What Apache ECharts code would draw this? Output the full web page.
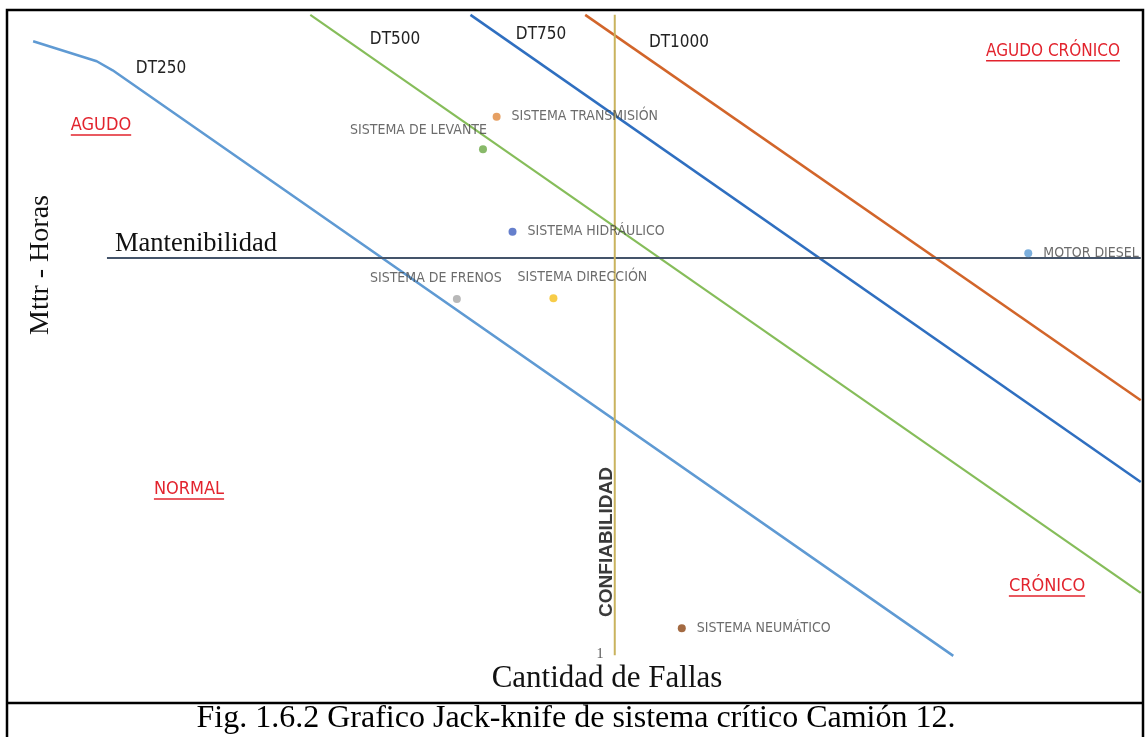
<!DOCTYPE html>
<html><head><meta charset="utf-8">
<script src="https://cdn.jsdelivr.net/npm/echarts@6/dist/echarts.min.js"></script>
<style>html,body{margin:0;padding:0;background:#fff}#c{width:1147px;height:737px}</style>
</head><body><div id="c"></div>
<script>
// ---- Data (normalized units 0-100) ----
const dt250 = [[2.3, 95.5], [7.9, 92.6], [9.3, 91.3], [83.3, 6.8]];
const dt500 = [[26.7, 99.3], [99.8, 15.9]];
const dt750 = [[40.8, 99.3], [99.8, 31.9]];
const dt1000 = [[50.9, 99.3], [99.8, 43.7]];
const mantenibilidad = [[8.8, 64.2], [99.8, 64.2]];
const confiabilidad = [[53.5, 99.3], [53.5, 6.9]];
const sistemas = ['SISTEMA TRANSMISIÓN', 'SISTEMA DE LEVANTE', 'SISTEMA HIDRÁULICO', 'SISTEMA DE FRENOS', 'SISTEMA DIRECCIÓN', 'MOTOR DIESEL', 'SISTEMA NEUMÁTICO'];
const fallas = [43.1, 41.9, 44.5, 39.6, 48.1, 89.9, 59.4];
const mttr = [84.6, 79.9, 68.0, 58.3, 58.4, 64.9, 10.8];
const dtNames = ['DT250', 'DT500', 'DT750', 'DT1000'];
const zonas = ['AGUDO', 'AGUDO CRÓNICO', 'NORMAL', 'CRÓNICO'];

// ---- Styles / layout ----
const NARROW = "'Liberation Sans Narrow','DejaVu Sans Condensed','Roboto Condensed',Roboto,sans-serif";
const SERIF = "'Liberation Serif','Times New Roman',serif";
const dotColors = ['#e0883c', '#6aa843', '#3f5fbf', '#a6a6a6', '#f5bf1a', '#5b9bd5', '#8c4513'];
const labelPos = [
  { position: 'right', distance: 11 },
  { position: 'top', distance: 8, align: 'right', offset: [4, 0] },
  { position: 'right', distance: 11 },
  { position: 'top', distance: 10, offset: [-21, 0] },
  { position: 'top', distance: 10, offset: [29, 0] },
  { position: 'right', distance: 11, offset: [0, 0] },
  { position: 'right', distance: 11 }
];

const cv = document.createElement('canvas').getContext('2d');
function tw(text, font) { cv.font = font; return cv.measureText(text).width; }

function redLabel(text, cx, cy, size) {
  const font = size + 'px ' + NARROW;
  const w = tw(text, font);
  return [
    { type: 'text', left: cx - w / 2, top: cy - size * 0.6, style: { text: text, font: font, fill: '#e2232d' }, z: 10 },
    { type: 'line', shape: { x1: cx - w / 2, y1: cy + size * 0.45, x2: cx + w / 2, y2: cy + size * 0.45 }, style: { stroke: '#e2232d', lineWidth: 1.5 }, z: 10 }
  ];
}
function plainText(text, x, y, font, fill, extra) {
  return Object.assign({ type: 'text', x: x, y: y, style: { text: text, font: font, fill: fill, textAlign: 'center', textVerticalAlign: 'middle' }, z: 10 }, extra || {});
}

const lineSeries = (data, color, width) => ({
  type: 'line', data: data, symbol: 'none', silent: true, animation: false,
  lineStyle: { color: color, width: width }, z: 2
});

const scatterData = sistemas.map((n, i) => ({
  name: n, value: [fallas[i], mttr[i]],
  itemStyle: { color: dotColors[i] },
  label: Object.assign({ show: true, formatter: n, color: '#474747', fontFamily: NARROW, fontSize: 14 }, labelPos[i])
}));

const dtFont = '17px ' + NARROW;
const graphics = [
  // outer frame
  { type: 'rect', shape: { x: 7, y: 10, width: 1136, height: 740 }, style: { fill: 'none', stroke: '#000', lineWidth: 2.5 }, z: 20 },
  { type: 'line', shape: { x1: 7, y1: 703, x2: 1143, y2: 703 }, style: { stroke: '#000', lineWidth: 2.5 }, z: 20 },
  plainText(dtNames[0], 161, 69, dtFont, '#222'),
  plainText(dtNames[1], 395, 40, dtFont, '#222'),
  plainText(dtNames[2], 541, 35, dtFont, '#222'),
  plainText(dtNames[3], 679, 43, dtFont, '#222'),
  ...redLabel(zonas[0], 101, 127, 18),
  ...redLabel(zonas[1], 1053, 53, 17),
  ...redLabel(zonas[2], 189, 491, 18),
  ...redLabel(zonas[3], 1047, 588, 18),
  { type: 'text', left: 115, top: 231, style: { text: 'Mantenibilidad', font: '26.5px ' + SERIF, fill: '#111' }, z: 10 },
  plainText('CONFIABILIDAD', 607, 542, "bold 19px 'Liberation Sans',Arial,sans-serif", '#3a3a3a', { rotation: Math.PI / 2 }),
  plainText('Mttr - Horas', 41, 265, '28px ' + SERIF, '#111', { rotation: Math.PI / 2 }),
  plainText('1', 600, 654, '14px ' + SERIF, '#555'),
  plainText('Cantidad de Fallas', 607, 679, '31px ' + SERIF, '#111'),
  plainText('Fig. 1.6.2 Grafico Jack-knife de sistema crítico Camión 12.', 576, 719, '32px ' + SERIF, '#000')
];

const chart = echarts.init(document.getElementById('c'), null, { renderer: 'canvas' });
chart.setOption({
  animation: false,
  backgroundColor: '#fff',
  grid: { left: 7, right: 4, top: 10, bottom: 34 },
  xAxis: { type: 'value', min: 0, max: 100, show: false },
  yAxis: { type: 'value', min: 0, max: 100, show: false },
  series: [
    lineSeries(dt250, '#5f9ad3', 2.5),
    lineSeries(dt500, '#86bd5a', 2.2),
    lineSeries(dt750, '#2f6fc0', 2.5),
    lineSeries(dt1000, '#d2652a', 2.5),
    lineSeries(mantenibilidad, '#44546a', 2),
    lineSeries(confiabilidad, '#c9b35e', 2),
    { type: 'scatter', data: scatterData, symbolSize: 8, animation: false, z: 5 }
  ],
  graphic: graphics
});
</script></body></html>
